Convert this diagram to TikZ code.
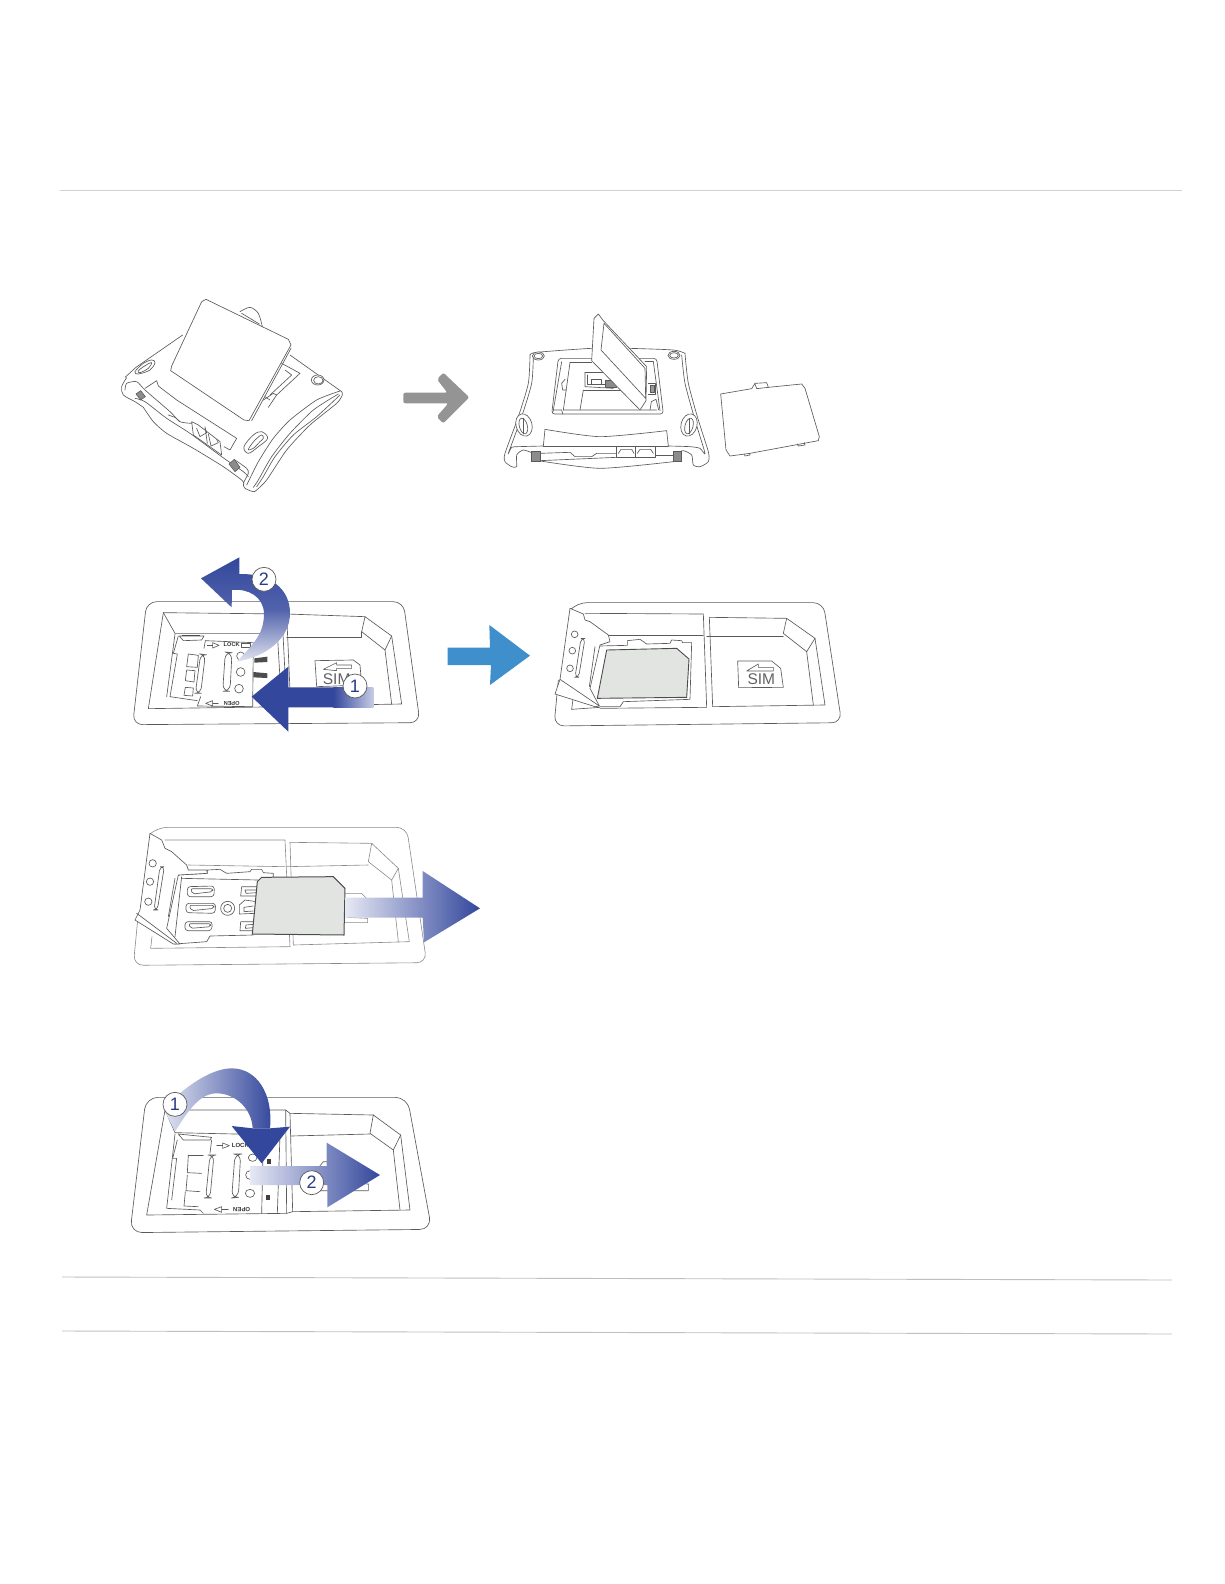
\documentclass[tikz,border=0pt]{standalone}
\usepackage{fontspec}
\setmainfont{Liberation Sans}
\definecolor{arrblue}{HTML}{33479C}
\definecolor{arrlight}{HTML}{E6E8F4}
\definecolor{linegray}{HTML}{5A5A5A}
\definecolor{lightline}{HTML}{8A8A8A}
\definecolor{simfill}{HTML}{E2E4E2}
\definecolor{skyarrow}{HTML}{3F8FCC}
\tikzset{
  x=1pt,y=-1pt,
  ln/.style={draw=linegray,line width=0.65pt,line join=round,line cap=round},
  lnl/.style={draw=lightline,line width=0.6pt,line join=round,line cap=round},
  wh/.style={ln,fill=white},
  screw/.style={draw=linegray,line width=0.6pt,fill=black!45},
  rule/.style={draw=black!18,line width=0.9pt},
  numdot/.style={circle,draw=linegray,fill=white,line width=0.7pt,minimum size=24pt,inner sep=0pt,font=\fontsize{18}{18}\selectfont,text=arrblue!85!black},
  tiny/.style={font=\fontsize{5.6}{6}\selectfont\bfseries,text=black!80,inner sep=0pt},
  simtxt/.style={font=\fontsize{15.5}{15.5}\selectfont,text=black!62,inner sep=0pt},
  z/.style n args={2}{shift={(#1,#2)},scale=1/3}
}
\begin{document}
\begin{tikzpicture}
\path (0,0) rectangle (1224,1584);
% rules
\coordinate (r1a) at (60,190);\coordinate (r1b) at (1182,190);
\draw[rule] (r1a)--(r1b);
\coordinate (r2a) at (62,1277);\coordinate (r2b) at (1172,1280);
\draw[rule,draw=black!25] (r2a)--(r2b);
\coordinate (r3a) at (62,1331);\coordinate (r3b) at (1172,1334);
\draw[rule,draw=black!25] (r3a)--(r3b);

% ===== scene 1 =====
\begin{scope}[z={100}{280}]
\draw[ln] plot[smooth,tension=.5] coordinates {(420,95)(450,82)(475,100)(487,140)};
\draw[ln] (425,100)--(478,132);
% top edges
\draw[ln] (248,165)--(108,262)--(75,292);
\draw[ln] (570,225)--(725,335);
% left end
\draw[ln] plot[smooth,tension=.5] coordinates {(80,293)(65,320)(70,345)(105,365)(130,382)};
\draw[ln] plot[smooth,tension=.4] coordinates {(130,382)(160,425)(200,460)(280,505)(370,560)(425,600)(432,610)};
\draw[ln] plot[smooth,tension=.4] coordinates {(75,330)(80,310)(110,305)(135,330)(210,395)(240,425)(275,430)};
\draw[ln] plot[smooth,tension=.4] coordinates {(105,355)(135,365)(200,415)(270,460)(365,530)(430,575)(445,590)};
\draw[ln] (135,325)--(170,302)--(175,318)--(230,360)--(410,475)--(390,510)--(372,500);
\draw[ln] (205,405)--(225,412)--(240,425);
% ports
\draw[ln] (275,425)--(295,435)--(360,485)--(365,525)--(280,465)--cycle;
\draw[ln] (290,445)--(300,470)--(320,458)--(315,445);
\draw[ln] (325,462)--(333,498)--(355,488)--(350,478);
\draw[ln] (315,440)--(322,490);
% right band
\draw[ln] plot[smooth,tension=.4] coordinates {(720,333)(650,360)(570,420)(520,475)(475,545)(450,595)(440,615)};
\draw[ln] plot[smooth,tension=.4] coordinates {(715,342)(640,390)(570,460)(515,530)(475,600)(460,622)};
\draw[ln] plot[smooth,tension=.4] coordinates {(720,345)(650,410)(580,465)(525,530)(490,590)(470,620)};
\draw[ln] plot[smooth,tension=.4] coordinates {(725,335)(727,345)(710,370)(630,435)(560,510)(500,600)(470,630)(460,635)(435,625)(430,610)(445,580)(440,565)(405,540)};
% keyholes and buttons
\draw[ln] plot[smooth cycle,tension=.6] coordinates {(105,275)(130,250)(155,240)(165,248)(150,270)(115,282)};
\draw[ln] plot[smooth cycle,tension=.6] coordinates {(115,272)(140,254)(155,248)(145,265)(120,278)};
\draw[ln] plot[smooth cycle,tension=.6] coordinates {(432,500)(460,465)(485,455)(503,475)(475,500)(445,520)};
\draw[ln] plot[smooth cycle,tension=.6] coordinates {(445,508)(465,480)(485,465)(490,475)(480,485)(460,505)};
\draw[ln,fill=white] (653,300) ellipse [x radius=19,y radius=15];
\draw[ln] (655,301) ellipse [x radius=14,y radius=11];
\draw[screw] (108,342)--(122,332)--(136,350)--(122,360)--cycle;
\draw[screw] (387,552)--(403,538)--(420,562)--(405,575)--cycle;
% under the cover
\draw[ln] (545,250)--(600,280)--(530,345)--(505,382);
\draw[ln] (555,270)--(575,285)--(510,345);
\draw[ln] (490,360)--(520,340)--(530,345);\draw[ln] (495,350)--(510,360);
% cover
\draw[ln,fill=white] (305,65) -- (318,58) -- (565,178) -- (573,195) -- (447,422) -- (432,420) -- (212,272) -- (215,258) -- cycle;
\draw[ln] (573,205)--(455,422);
\fill[black!42,rounded corners=2pt] (910,338)--(1042,338)--(1011,298)--(1030,278)--(1108,352)--(1030,430)--(1010,410)--(1045,370)--(910,370)--cycle;
\end{scope}

% ===== scene 2 =====
\begin{scope}[z={490}{290}]
\draw[ln] plot[smooth,tension=.4] coordinates {(120,195)(140,187)(305,175)(415,175)(550,180)(585,190)};
\draw[ln] plot[smooth,tension=.4] coordinates {(120,195)(115,280)(85,380)(45,490)(45,515)(65,530)(80,530)(80,495)(100,480)(130,490)};
\draw[ln] plot[smooth,tension=.4] coordinates {(585,190)(595,280)(625,390)(655,485)(655,515)(630,530)(610,525)(605,495)(580,482)(555,490)};
\draw[ln] plot[smooth,tension=.4] coordinates {(130,200)(125,280)(95,380)(55,490)(65,472)(85,470)(160,468)};
\draw[ln] plot[smooth,tension=.4] coordinates {(575,195)(585,280)(615,390)(645,490)(630,475)(600,470)(535,468)};
\draw[ln] (160,468)--(535,468);
\draw[ln] (165,418)--(160,468);\draw[ln] (530,422)--(535,468);
\draw[ln] plot[smooth,tension=.4] coordinates {(165,418)(330,440)(530,422)};
\draw[ln] plot[smooth,tension=.4] coordinates {(145,512)(330,535)(550,515)};
\draw[ln] (150,490)--(240,487)--(255,500)--(305,500)--(320,490)--(380,490);
\draw[ln] (150,512)--(380,502);
\draw[ln] (495,495)--(550,495);
\draw[ln,fill=white] (380,470) rectangle (435,502);
\draw[ln,fill=white] (435,470) rectangle (495,502);
\draw[ln] (385,490)--(393,478)--(425,478)--(432,490);
\draw[ln] (442,490)--(450,478)--(482,478)--(490,490);
\draw[screw] (125,485) rectangle (150,515);
\draw[screw] (550,485) rectangle (575,515);
% window
\draw[ln,fill=white,rounded corners=3pt] (205,205)--(185,372)--(520,372)--(500,205)--cycle;
\draw[ln] (215,215)--(190,360);\draw[ln] (490,215)--(510,362);
\draw[ln] (240,218)--(220,360)--(500,360);
\draw[ln] (240,218)--(305,218);\draw[ln] (465,215)--(490,215);
\draw[ln] (285,247)--(350,247);\draw[ln] (285,247)--(285,290)--(370,295);
\draw[ln] (292,255)--(292,282)--(345,282);\draw[ln] (305,268)--(335,268)--(335,282)--(305,282)--cycle;
\draw[ln] (280,300)--(270,360);\draw[ln] (280,300)--(400,300);
\draw[ln] (475,280)--(495,280)--(495,312)--(475,312);
\draw[ln,fill=black!40] (480,285) rectangle (492,308);
\draw[ln] (225,268)--(215,280)--(218,300)--(230,300);
\draw[ln] (188,368)--(190,360)--(215,360)--(218,372);
\draw[ln] (480,360)--(484,335)--(498,328)--(506,360);
\draw[ln,fill=black!45] (345,270) rectangle (380,292);
% open cover
\draw[ln,fill=white] (312,85)--(325,72)--(340,92)--(470,230)--(468,332)--(450,360)--(305,212)--cycle;
\draw[ln] (342,100)--(465,235)--(467,325)--(333,180)--cycle;
\draw[ln,fill=white] (145,198) ellipse [x radius=18,y radius=12];
\draw[ln] (145,198) ellipse [x radius=13,y radius=8];
\draw[ln,fill=white] (552,196) ellipse [x radius=18,y radius=12];
\draw[ln] (552,196) ellipse [x radius=13,y radius=8];
\draw[ln,fill=white] (102,405) ellipse [x radius=24,y radius=34,rotate=15];
\draw[ln] (100,408) ellipse [x radius=12,y radius=24,rotate=15];
\draw[ln] (100,385)--(100,432);
\draw[ln,fill=white] (597,405) ellipse [x radius=24,y radius=34,rotate=-15];
\draw[ln] (597,408) ellipse [x radius=12,y radius=24,rotate=-15];
\draw[ln] (597,385)--(597,432);
% removed cover
\draw[ln,fill=white] (692,312)--(785,296)--(795,280)--(830,278)--(835,292)--(935,282)--(945,295)--(988,440)--(985,452)--(780,490)--(720,498)--(708,480)--cycle;
\draw[ln] (795,282)--(800,296)--(835,292);
\draw[ln] (762,492)--(765,498)--(780,495)--(778,490);
\draw[ln] (922,462)--(925,468)--(945,465)--(943,458);
\end{scope}

% ===== scene 3 =====
\begin{scope}[z={120}{550}]
\draw[ln,rounded corners=10pt] (80,155)--(850,155)--(900,518)--(38,524)--cycle;
\draw[ln] (130,188)--(486,192)--(500,470)--(85,476)--cycle;
\draw[ln] (130,188)--(165,250)--(470,250);
\draw[ln] (500,192)--(735,200);
\draw[ln] (735,200)--(815,258)--(795,300)--(725,245)--cycle;
\draw[ln] (500,262)--(725,262)--(725,245);
\draw[ln] (815,258)--(845,462)--(512,468);\draw[ln] (795,300)--(815,462);
\draw[ln] (500,192)--(512,468);
\draw[ln] (472,250)--(485,470);
\draw[ln] (165,252)--(140,440);
\draw[ln] (178,258)--(252,258)--(245,270)--(190,272)--cycle;
\draw[line width=1pt,draw=black!70] (185,255)--(240,255);
\draw[ln] (175,258)--(160,310)--(172,312)--(150,440)--(232,452);
\draw[ln] (205,312)--(235,316)--(232,352)--(200,350)--cycle;
\draw[ln] (200,360)--(225,362)--(222,396)--(196,392)--cycle;
\draw[ln] (196,412)--(220,414)--(218,438)--(192,436)--cycle;
\draw[ln,rounded corners=6pt] (242,312)--(256,314)--(242,430)--(226,430)--cycle;
\draw[ln,rounded corners=7pt] (316,306)--(336,308)--(330,424)--(308,424)--cycle;
\draw[ln] (256,272)--(400,278)--(398,470)--(232,468)--(242,440);
\draw[ln] (256,272)--(252,295);
\draw[ln] (262,285)--(278,285);\draw[ln] (278,278)--(297,286)--(278,294)--cycle;
\node[tiny] (lock1) at (335,285) {LOCK};
\draw[ln] (365,280) rectangle (392,292);
\node[tiny,rotate=180] (open1) at (335,459) {OPEN};
\draw[ln] (295,460)--(278,460);\draw[ln] (278,452)--(257,460)--(278,468)--cycle;
\draw[ln] (362,318) circle (12);
\draw[ln] (362,366) circle (13);
\draw[ln] (357,416) circle (13);
\fill[black!70] (403,325)--(442,320)--(442,336)--(403,338)--cycle;
\fill[black!70] (400,366)--(442,370)--(442,384)--(400,382)--cycle;
\draw[ln] (585,332)--(700,330)--(720,345)--(725,405)--(590,410)--cycle;
\draw[ln] (610,358)--(650,338)--(650,345)--(695,345)--(695,355)--(650,355)--(650,362)--cycle;
\node[simtxt] (sim1) at (650,386) {SIM};
% arrow 2
\shade[top color=arrblue,bottom color=arrblue!15!white,middle color=arrblue!85!white]
  (350,335)
  .. controls (415,270) and (432,240) .. (432,190)
  .. controls (430,140) and (385,115) .. (336,120)
  -- (335,172) -- (243,85) -- (358,22) -- (358,72)
  .. controls (450,70) and (510,115) .. (510,190)
  .. controls (510,265) and (440,320) .. (350,335) -- cycle;
\node[numdot] (n2a) at (432,88) {2};
% arrow 1
\fill[arrblue] (395,440)--(505,350)--(505,412)--(645,412)--(645,472)--(505,472)--(505,545)--cycle;
\shade[left color=arrblue,right color=arrblue!28!white] (640,412) rectangle (760,472);
\node[numdot] (n1a) at (705,408) {1};
\end{scope}

% blue arrow
\begin{scope}[z={430}{610}]
\fill[skyarrow] (53,113)--(180,113)--(178,45)--(300,137)--(180,225)--(183,165)--(53,165)--cycle;
\end{scope}

% ===== scene 4 =====
\begin{scope}[z={540}{590}]
\draw[ln,rounded corners=10pt] (95,55)--(110,38)--(850,38)--(905,398)--(42,408)--(55,270);
\draw[ln] (135,70)--(490,72)--(500,352)--(180,355);
\draw[ln] (205,135)--(490,135);
\draw[ln] (508,82)--(740,85);
\draw[ln] (740,85)--(825,145)--(800,185)--(730,130)--cycle;
\draw[ln] (500,140)--(730,140);
\draw[ln] (825,145)--(855,345)--(518,350);\draw[ln] (800,185)--(820,345);
\draw[ln] (508,82)--(518,350);
\draw[ln] (95,358)--(100,320);\draw[ln] (95,358)--(180,352);
% tray
\draw[ln] (178,168)--(262,166)--(262,152)--(300,148)--(320,162)--(390,160)--(395,150)--(425,152)--(428,158)--(455,158)--(450,328)--(250,335)--(240,350)--(180,350);
% lid
\draw[ln,fill=white] (90,55)--(130,72)--(135,90)--(150,95)--(205,135)--(210,155)--(180,165)--(150,295)--(178,348)--(165,350)--(45,312)--(60,268)--cycle;
\draw[ln] (60,268)--(178,348);
\draw[ln] (165,170)--(148,290);
\draw[ln] (104,133) circle (10);
\draw[ln] (97,182) circle (10);
\draw[ln] (90,235) circle (10);
\draw[ln,rounded corners=4pt] (123,145)--(135,145)--(116,262)--(105,262)--cycle;
% sim card
\draw[draw=black!70,line width=0.9pt,fill=simfill] (200,180)--(410,175)--(447,207)--(440,322)--(172,325)--cycle;
% sim icon
\draw[ln] (593,213)--(695,213)--(722,235)--(730,292)--(596,293)--cycle;
\draw[ln] (620,243)--(655,222)--(655,232)--(700,232)--(700,243)--cycle;
\node[simtxt] (sim2) at (664,268) {SIM};
\end{scope}

% ===== scene 5 =====
\begin{scope}[z={120}{810}]
\draw[lnl,rounded corners=10pt] (92,70)--(112,52)--(860,52)--(920,458)--(40,466)--(55,310);
\draw[lnl] (135,90)--(495,90)--(510,410)--(92,415)--(96,380);
\draw[lnl] (205,165)--(495,170);
\draw[lnl] (510,97)--(755,100);
\draw[lnl] (755,100)--(835,175)--(815,210)--(745,155)--cycle;
\draw[lnl] (500,170)--(745,165);
\draw[lnl] (835,175)--(868,395)--(520,405);\draw[lnl] (815,210)--(835,395);
\draw[lnl] (510,97)--(520,405);
% tray
\draw[ln] (175,195)--(262,190)--(262,180)--(300,178)--(320,190)--(390,185)--(395,178)--(425,178)--(430,188)--(460,190)--(458,372);
\draw[ln] (185,200)--(165,380);
\draw[ln] (185,205)--(415,210);
\draw[ln] (165,402)--(260,395)--(270,378)--(400,375);
\draw[ln,rounded corners=3pt] (202,230)--(283,228)--(282,260)--(202,260)--cycle;
\draw[ln,rounded corners=2pt] (212,236)--(278,236)--(278,245)--(218,252)--cycle;
\draw[ln,rounded corners=3pt] (198,280)--(287,280)--(285,310)--(198,308)--cycle;
\draw[ln,rounded corners=2pt] (208,286)--(282,286)--(282,295)--(214,302)--cycle;
\draw[ln,rounded corners=3pt] (195,335)--(277,335)--(275,362)--(195,362)--cycle;
\draw[ln,rounded corners=2pt] (206,341)--(272,341)--(272,350)--(212,355)--cycle;
\draw[ln] (415,230)--(365,230)--(362,258)--(412,258);
\draw[ln] (410,240)--(375,240)--(378,250)--(410,248);
\draw[ln] (358,285)--(375,270)--(410,275);\draw[ln] (358,285)--(358,312)--(405,310);\draw[ln] (372,292)--(400,288);\draw[ln] (372,292)--(372,305)--(400,303);
\draw[ln] (405,335)--(362,335)--(360,362)--(400,362);\draw[ln] (400,343)--(378,345)--(376,355)--(400,353);
\draw[ln] (323,295) circle (21);
\draw[ln] (323,295) circle (12);
% lid
\draw[ln,fill=white] (90,70)--(125,90)--(135,115)--(155,125)--(200,165)--(205,180)--(260,180)--(262,190)--(175,195)--(140,355)--(180,402)--(160,402)--(45,330)--(60,300)--cycle;
\draw[ln] (50,310)--(170,400);
\draw[ln] (165,205)--(145,320);
\draw[ln] (98,160) circle (11);
\draw[ln] (90,215) circle (11);
\draw[ln] (85,275) circle (11);
\draw[ln,rounded corners=4pt] (120,170)--(133,170)--(112,300)--(102,300)--cycle;
% behind arrow
\draw[lnl] (675,250)--(725,250)--(740,265);
\draw[lnl] (680,322)--(743,325)--(743,338)--(675,338);
% sim
\draw[draw=black!70,line width=1pt,fill=simfill] (425,202)--(640,200)--(675,235)--(672,375)--(397,372)--(412,215)--cycle;
% arrow
\shade[left color=arrlight,right color=arrblue] (675,263)--(908,263)--(908,183)--(1080,295)--(912,397)--(908,323)--(675,323)--cycle;
\end{scope}

% ===== scene 6 =====
\begin{scope}[z={120}{1060}]
\draw[ln,rounded corners=12pt] (78,112)--(862,112)--(935,508)--(30,518)--cycle;
\draw[ln] (135,150)--(497,150)--(510,160)--(518,455)--(500,460)--(80,465)--cycle;
\draw[ln] (135,150)--(165,218)--(480,225);
\draw[ln] (497,150)--(500,460);
\draw[ln] (510,160)--(760,165);
\draw[ln] (760,165)--(842,225)--(820,270)--(750,220)--cycle;
\draw[ln] (512,228)--(750,222);
\draw[ln] (820,270)--(840,450);\draw[ln] (842,225)--(870,450)--(518,455);
\draw[ln] (480,225)--(472,460);
% tray
\draw[ln] (165,222)--(140,445)--(240,450);
\draw[ln] (175,222)--(275,232)--(270,240)--(190,240)--cycle;
\draw[ln] (172,240)--(158,295)--(170,295)--(155,420);
\draw[ln] (205,285)--(250,285);\draw[ln] (205,285)--(202,338)--(245,340);\draw[ln] (202,345)--(198,392)--(240,395);\draw[ln] (196,395)--(192,438)--(235,440);
\draw[ln,rounded corners=6pt] (270,285)--(282,285)--(270,414)--(257,414)--cycle;
\draw[ln,rounded corners=7pt] (345,282)--(362,282)--(355,412)--(335,414)--cycle;
\draw[ln] (398,293) ellipse [x radius=13,y radius=11];
\draw[ln] (390,345) ellipse [x radius=13,y radius=13];
\draw[ln] (390,400) ellipse [x radius=14,y radius=12];
\fill[black!75] (440,298) rectangle (452,312);
\fill[black!75] (438,405) rectangle (450,420);
\draw[ln] (275,240)--(270,280);
\draw[ln] (240,450)--(250,460);\draw[ln] (430,235)--(425,460);
\draw[ln] (290,257)--(308,257);\draw[ln] (308,249)--(328,257)--(308,265)--cycle;
\node[tiny,anchor=west,font=\fontsize{6}{6}\selectfont\bfseries] (lock2) at (335,257) {LOCK};
\draw[ln] (325,447)--(305,447);\draw[ln] (305,440)--(283,448)--(305,457)--cycle;
\node[tiny,rotate=180,font=\fontsize{6}{6}\selectfont\bfseries] (open2) at (365,449) {OPEN};
\draw[ln] (598,320)--(610,305)--(625,305);
\draw[ln] (600,370)--(602,392)--(745,392)--(745,372);
\draw[ln] (700,370)--(745,372);
% arrow 1
\shade[left color=arrblue!15!white,right color=arrblue]
  (165,215) -- (130,145)
  .. controls (190,85) and (270,25) .. (335,25)
  .. controls (410,25) and (460,100) .. (450,205)
  -- (398,205)
  .. controls (395,145) and (345,100) .. (290,100)
  .. controls (240,100) and (205,150) .. (165,215) -- cycle;
\fill[arrblue] (510,200)--(425,310)--(335,198)--(398,205)--(450,205)--cycle;
\node[numdot] (n1b) at (165,133) {1};
% arrow 2
\shade[left color=arrlight,right color=arrblue] (390,318)--(620,318)--(620,248)--(780,345)--(622,442)--(622,375)--(390,375)--cycle;
\node[numdot] (n2b) at (575,368) {2};
\end{scope}
\end{tikzpicture}
\end{document}
